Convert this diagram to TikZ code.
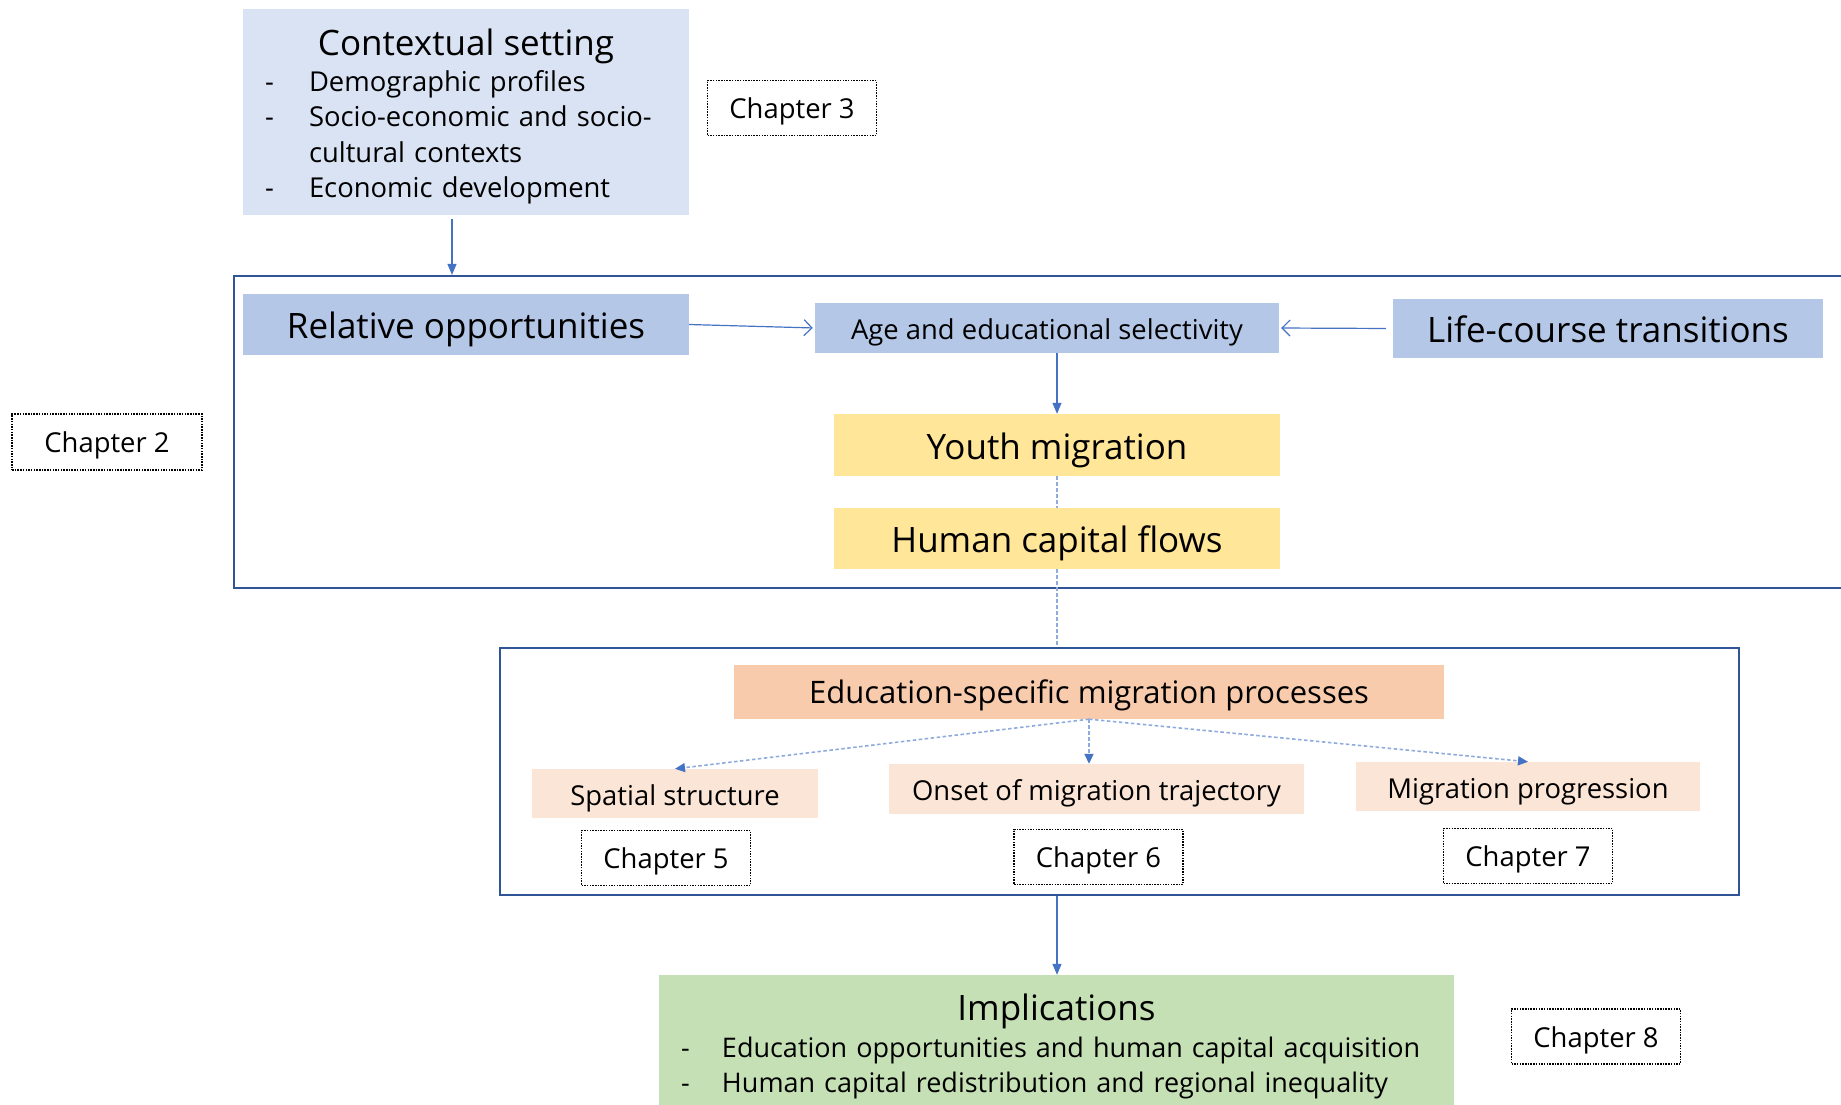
\documentclass[tikz,border=0pt]{standalone}
\usepackage{fontspec}
\setmainfont{Open Sans}
\usepackage{xcolor}
\usetikzlibrary{arrows.meta,positioning}

\definecolor{ctxblue}{HTML}{DAE3F3}
\definecolor{boxblue}{HTML}{B4C7E7}
\definecolor{youthyellow}{HTML}{FFE699}
\definecolor{procorange}{HTML}{F8CBAD}
\definecolor{subpeach}{HTML}{FBE5D6}
\definecolor{implgreen}{HTML}{C5E0B4}
\definecolor{frameblue}{HTML}{2F5597}
\definecolor{linkblue}{HTML}{4472C4}
\definecolor{dashblue}{HTML}{8FAADC}

\newcommand{\bigtext}{\fontsize{35}{40}\selectfont}
\newcommand{\midtext}{\fontsize{31}{36}\selectfont}
\newcommand{\smalltext}{\fontsize{27.4}{35.5}\selectfont}
\newcommand{\listtext}{\fontsize{27}{35}\selectfont}

\begin{document}
\begin{tikzpicture}[x=1pt, y=-1pt,
    area/.style={rectangle, inner sep=0pt, text=black},
    big/.style={area, font=\bigtext, text height=31pt, text depth=3pt},
    mid/.style={area, font=\midtext, text height=26.5pt, text depth=3pt},
    small/.style={area, font=\smalltext, text height=25pt, text depth=2pt},
    chapter/.style={small, draw=black, line width=1.5pt, dash pattern=on 1.5pt off 1.2pt,
        minimum width=169pt, minimum height=55pt, text height=24pt, text depth=2.5pt},
    frame/.style={draw=frameblue, line width=2.2pt, inner sep=0pt},
    link/.style={draw=linkblue, line width=1.2pt},
    dashlink/.style={draw=dashblue, line width=1.6pt, dash pattern=on 3.5pt off 2.5pt},
    solidtip/.style={-{Triangle[width=9pt,length=11pt]}},
    dashtip/.style={-{Triangle[width=9pt,length=10pt,color=linkblue]}},
    opentip/.style={-{Straight Barb[width=16pt,length=8pt]}}]
    \useasboundingbox (0,0) rectangle (1841,1104);
    \clip (0,0) rectangle (1841,1104);

    % context block and chapter tags
    \node[area, fill=ctxblue, minimum width=446pt, minimum height=206pt, text width=402pt, font=\smalltext] (context) at (466,112) {%
        \begin{tabular}{@{}p{44pt}@{}p{358pt}@{}}
            \multicolumn{2}{c}{\rule{0pt}{40pt}\bigtext Contextual setting}\\
            - & Demographic profiles\\
            - & Socio-economic and socio-\\
              & cultural contexts\\
            - & Economic development
        \end{tabular}};
    \node[chapter] (ch3) at (792,108) {Chapter 3};
    \node[chapter, minimum width=190pt, minimum height=56pt] (ch2) at (107,442) {Chapter 2};

    % upper frame
    \node[frame, minimum width=1620pt, minimum height=312pt] (upper) at (1044,432) {};
    \node[big, fill=boxblue, minimum width=446pt, minimum height=61pt] (relopp) at (466,324.5) {Relative opportunities};
    \node[small, fill=boxblue, minimum width=464pt, minimum height=50pt] (select) at (1047,328) {Age and educational selectivity};
    \node[big, fill=boxblue, minimum width=430pt, minimum height=59pt] (lifecourse) at (1608,328.5) {Life-course transitions};
    \node[big, fill=youthyellow, minimum width=446pt, minimum height=62pt] (youth) at (1057,445) {Youth migration};
    \node[big, fill=youthyellow, minimum width=446pt, minimum height=61pt, below of=youth, node distance=93.5pt] (hcflows) {Human capital flows};

    % lower frame
    \node[frame, minimum width=1239pt, minimum height=247pt] (lower) at (1119.5,771.5) {};
    \node[mid, fill=procorange, minimum width=710pt, minimum height=54pt] (process) at (1089,692) {Education-specific migration processes};
    \node[small, fill=subpeach, minimum width=286pt, minimum height=49pt] (spatial) at (675,793.5) {Spatial structure};
    \node[small, fill=subpeach, minimum width=415pt, minimum height=50pt] (onset) at (1096.5,789) {Onset of migration trajectory};
    \node[small, fill=subpeach, minimum width=344pt, minimum height=49pt] (progress) at (1528,786.5) {Migration progression};
    \node[chapter, below of=spatial, node distance=64.5pt, xshift=-9pt] (ch5) {Chapter 5};
    \node[chapter, below of=onset, node distance=68pt, xshift=2pt] (ch6) {Chapter 6};
    \node[chapter, below of=progress, node distance=69.5pt] (ch7) {Chapter 7};

    % implications
    \node[area, fill=implgreen, minimum width=795pt, minimum height=135pt, text width=751pt, font=\listtext] (implic) at (1056.5,1042.5) {%
        \begin{tabular}{@{}p{41pt}@{}p{710pt}@{}}
            \multicolumn{2}{c}{\rule{0pt}{38pt}\bigtext Implications}\\[2pt]
            - & Education opportunities and human capital acquisition\\
            - & Human capital redistribution and regional inequality
        \end{tabular}};
    \node[chapter] (ch8) at (1596,1036.5) {Chapter 8};

    % connectors
    \draw[link, solidtip] ([xshift=-14pt, yshift=-4pt]context.south) -- ([xshift=-14pt]context.south |- upper.north);
    \draw[link, opentip, shorten >=2pt] (relopp.east) -- (select.west);
    \draw[link, opentip, shorten <=7pt, shorten >=2pt] (lifecourse.west) -- (select.east);
    \draw[link, solidtip] (youth.north |- select.south) -- (youth.north);
    \draw[dashlink] (youth.south) -- (hcflows.north);
    \draw[dashlink] (hcflows.south) -- (hcflows.south |- lower.north);
    \draw[dashlink, dashtip] (process.south) -- (spatial.north);
    \draw[dashlink, dashtip] (process.south) -- (process.south |- onset.north);
    \draw[dashlink, dashtip] (process.south) -- (progress.north);
    \draw[link, solidtip] (lower.south -| hcflows) -- (implic.north -| hcflows);
\end{tikzpicture}
\end{document}
